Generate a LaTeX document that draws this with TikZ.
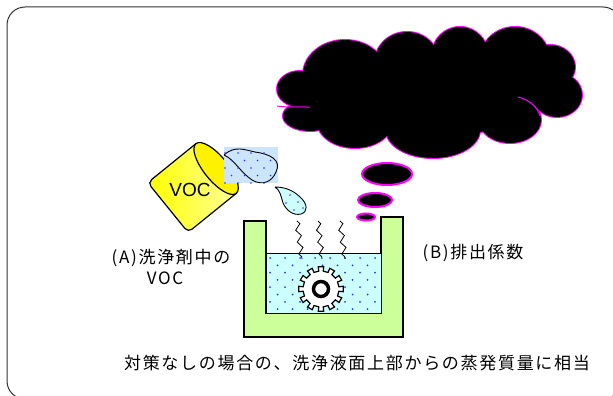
\documentclass[tikz,border=0pt]{standalone}
\usepackage{fontspec}
\newfontfamily\jpfont{Noto Sans CJK JP}[LetterSpace=10]
\newfontfamily\vocfont{Liberation Sans}
\usepackage{tikz}
\usetikzlibrary{decorations.pathmorphing}

\definecolor{tankgreen}{HTML}{CCFF99}
\definecolor{liquidcyan}{HTML}{CCFFFF}
\definecolor{pourblue}{HTML}{CCE5FF}
\definecolor{dotblue}{HTML}{3333FF}
\definecolor{rimmagenta}{RGB}{255,0,255}

\begin{document}
\begin{tikzpicture}[x=1pt, y=-1pt,
    jptext/.style={font=\jpfont\fontsize{17}{20}\selectfont, inner sep=0pt},
    wall/.style={draw=black, line width=1.6pt},
    puffline/.style={draw=rimmagenta, line width=2pt},
    steam/.style={decorate, decoration={zigzag, amplitude=2.5pt, segment length=12pt}, line width=0.8pt}]

    % Page and outer frame
    \useasboundingbox (0,0) rectangle (613,396);
    \fill[white] (0,0) rectangle (613,396);
    \clip (0,0) rectangle (613,396);
    \draw[rounded corners=18pt, line width=1pt, black!80] (7,7) rectangle (621,399);

    % Define the puffs of the cloud (x/y/rx/ry)
    \def\puffs{300/89/23/18, 310/116/27/15, 345/75/42/35, 407/62/32/30,
        460/55/28/28, 515/60/35/33, 550/67/25/22, 557/95/25/22,
        510/120/31/23, 433/130/47/28, 355/121/38/27, 430/92/110/45}
    \def\bubbles{387/174/25/11, 375/200/17/7, 366/217/9/3.5}

    % Draw the cloud: magenta rims first, black fill on top
    \foreach \cx/\cy/\rx/\ry in \puffs
        \draw[puffline] (\cx,\cy) ellipse ({\rx} and {\ry});
    \foreach \cx/\cy/\rx/\ry in \puffs
        \fill[black] (\cx,\cy) ellipse ({\rx} and {\ry});
    \draw[rimmagenta, line width=1pt] (518,97) .. controls (530,100) and (538,108) .. (540,116);
    \draw[rimmagenta, line width=1pt] (277,106) .. controls (285,107) .. (310,107);
    \foreach \cx/\cy/\rx/\ry in \bubbles
        \draw[puffline, fill=black] (\cx,\cy) ellipse ({\rx} and {\ry});

    % Draw the VOC can
    \begin{scope}[shift={(192,188)}, rotate=39]
        \shade[left color=yellow, right color=yellow!40, draw=black, line width=1.2pt]
            (31,-32) [rounded corners=5pt] -- (-31,-32) -- (-31,32) [sharp corners] -- (31,32) -- cycle;
        \draw[fill=yellow, line width=1.2pt] (31,0) ellipse (12 and 32);
    \end{scope}
    \node[font=\vocfont\fontsize{19}{20}\selectfont] (canlabel) at (190,190) {VOC};

    % Draw the poured cleaner
    \fill[pourblue] (224,147) rectangle (278,183);
    \draw[fill=pourblue, line width=0.9pt] (224,155) .. controls (235,145) and (245,150) .. (255,152)
        .. controls (270,154) and (282,160) .. (276,172) .. controls (272,182) and (262,186) .. (252,180)
        .. controls (240,172) and (235,160) .. (224,155);
    \foreach \j in {0,...,4}
        \foreach \i in {0,...,3}
            \fill[dotblue] ({225+6.5*mod(\j,2)+13*\i},{153+7.5*\j}) circle (0.9);

    % Draw the falling drop
    \draw[fill=liquidcyan, line width=0.9pt] (275,187) .. controls (284,187) and (293,190) .. (300,197)
        .. controls (308,204) and (308,212) .. (301,214) .. controls (293,216) and (286,210) .. (283,203)
        .. controls (281,196) and (280,190) .. (275,187);
    \foreach \dx/\dy in {290/195, 298/202, 286/203, 294/210, 303/208}
        \fill[dotblue] (\dx,\dy) circle (0.9);

    % Draw the tank and the cleaning liquid
    \draw[wall, fill=tankgreen] (244,221) -- (266,221) -- (266,313) -- (381,313) -- (381,217)
        -- (403,217) -- (403,337) -- (244,337) -- cycle;
    \draw[fill=liquidcyan, line width=1pt] (266,253) rectangle (381,313);
    \begin{scope}
        \clip (266,253) rectangle (381,313);
        \foreach \j in {0,...,7}
            \foreach \i in {0,...,7}
                \fill[dotblue] ({270+7.5*mod(\j,2)+15*\i},{258+7.3*\j}) circle (1);
    \end{scope}

    % Vapour rising from the surface
    \draw[steam] (297,221) -- (302,259);
    \draw[steam] (318,221) -- (322,259);
    \draw[steam] (340,221) -- (345,259);

    % Draw the part to be cleaned
    \begin{scope}[shift={(321,289)}]
        \draw[fill=white, line width=1.2pt] (-7:22.5)
            \foreach \a in {0,30,...,330} { -- (\a-7:22.5) -- (\a+7:22.5) -- (\a+7:18) -- (\a+23:18) } -- cycle;
        \draw[line width=3.5pt, fill=white] (0,0) circle (7.5);
    \end{scope}

    % Labels
    \node[jptext] (labelA) at (171,258) {(A)洗浄剤中の};
    \node[jptext] (labelAvoc) at (165,278) {VOC};
    \node[jptext] (labelB) at (473,253) {(B)排出係数};
    \node[jptext] (caption) at (357,363) {対策なしの場合の、洗浄液面上部からの蒸発質量に相当};
\end{tikzpicture}
\end{document}
